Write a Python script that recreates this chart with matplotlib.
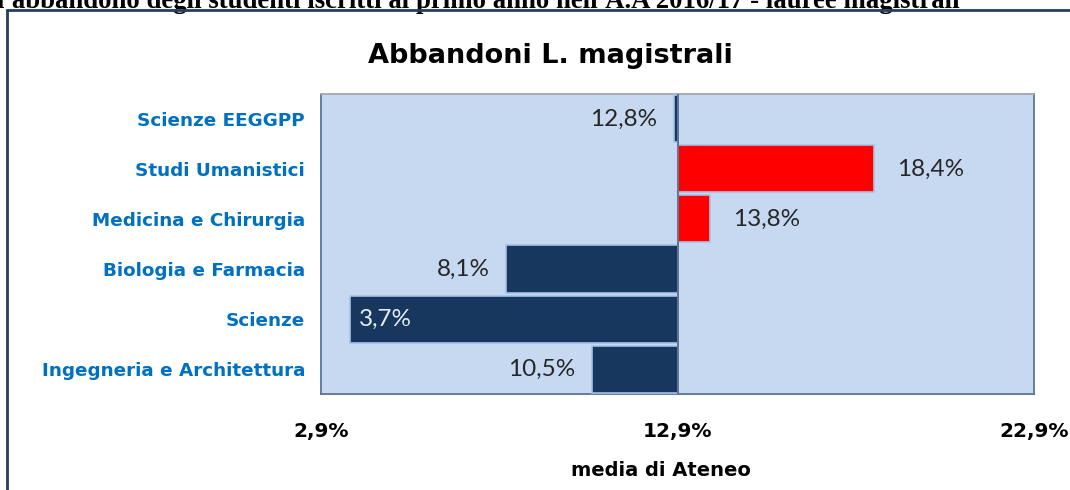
import matplotlib
matplotlib.use("Agg")
import matplotlib.pyplot as plt
from matplotlib.patches import Rectangle

# ---- data ----
categories = ["Scienze EEGGPP", "Studi Umanistici", "Medicina e Chirurgia",
              "Biologia e Farmacia", "Scienze", "Ingegneria e Architettura"]
values = [12.8, 18.4, 13.8, 8.1, 3.7, 10.5]
media = 12.9
value_labels = ["12,8%", "18,4%", "13,8%", "8,1%", "3,7%", "10,5%"]
xticks = [2.9, 12.9, 22.9]
xtick_labels = ["2,9%", "12,9%", "22,9%"]
title = "Abbandoni L. magistrali"
xlabel = "media di Ateneo"
header = "l'abbandono degli studenti iscritti al primo anno nell'A.A 2016/17 - lauree magistrali"

W, H = 1070, 490
fig = plt.figure(figsize=(W / 100, H / 100), dpi=100)
fig.patch.set_facecolor("white")

def fx(px):
    return px / W

def fy(py):
    return 1 - py / H

# outer chart border
fig.add_artist(Rectangle((fx(7), fy(600)), fx(1200), fy(10) - fy(600),
                         transform=fig.transFigure, fill=False,
                         edgecolor="#243F60", linewidth=2.0, zorder=5))

# clipped header text (cut off at the top edge, as in the source page)
fig.text(fx(-3), fy(8), header, ha="left", va="baseline",
         fontsize=19.3, fontweight="bold", family=["Liberation Serif", "DejaVu Serif"],
         color="black")

ax = fig.add_axes([fx(321), fy(394), fx(1034) - fx(321), fy(94) - fy(394)])
ax.set_facecolor("#C6D9F0")

n = len(categories)
ypos = list(range(n))
dark = "#17375E"
red = "#FF0000"
colors = [red if v > media else dark for v in values]
widths = [v - media for v in values]
ax.barh(ypos, widths, left=media, height=0.94, color=colors,
        edgecolor="#A7C1E6", linewidth=1.2, zorder=3)

ax.set_xlim(xticks[0], xticks[-1])
ax.set_ylim(n - 0.5, -0.5)

# center (media) line
ax.axvline(media, color="#5B7597", linewidth=1.4, zorder=4)

# value labels
lab_font = dict(fontsize=17.5, family=["Lato", "DejaVu Sans"])
for i, (v, lab) in enumerate(zip(values, value_labels)):
    if v > media:
        ax.annotate(lab, (v, i), xytext=(17, 0), textcoords="offset points",
                    ha="left", va="center", color="#262626", zorder=6, **lab_font)
    elif v < 5:
        ax.annotate(lab, (v, i), xytext=(7, 0), textcoords="offset points",
                    ha="left", va="center", color="#E6ECF4", zorder=6, **lab_font)
    else:
        ax.annotate(lab, (v, i), xytext=(-12, 0), textcoords="offset points",
                    ha="right", va="center", color="#262626", zorder=6, **lab_font)

# y labels
ax.set_yticks(ypos)
ax.set_yticklabels(categories, fontsize=13.2, fontweight="bold",
                   family=["DejaVu Sans"], color="#0070C0")
ax.tick_params(axis="y", length=0, pad=11.5)

# x ticks
ax.set_xticks(xticks)
ax.set_xticklabels(xtick_labels, fontsize=14.5, fontweight="bold",
                   family=["DejaVu Sans"], color="black")
ax.tick_params(axis="x", length=0, pad=20)

for side in ["left", "right", "bottom"]:
    ax.spines[side].set_color("#5B7597")
    ax.spines[side].set_linewidth(1.3)
ax.spines["top"].set_color("#A6A6A6")
ax.spines["top"].set_linewidth(1.3)

# chart title and axis caption
fig.text(fx(550), fy(63), title, ha="center", va="baseline", fontsize=19.5,
         fontweight="bold", family=["DejaVu Sans"], color="black")
fig.text(fx(661), fy(470), xlabel, ha="center", va="center", fontsize=14,
         fontweight="bold", family=["DejaVu Sans"], color="black")

fig.savefig("out.png", dpi=100)
